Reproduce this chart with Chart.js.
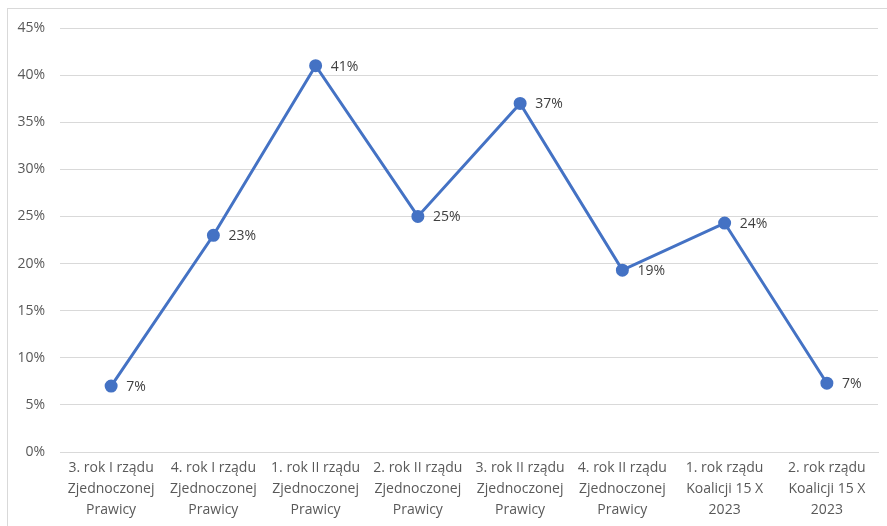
<!DOCTYPE html>
<html>
<head>
<meta charset="utf-8">
<script src="https://cdn.jsdelivr.net/npm/chart.js@4"></script>
<style>
  html, body { margin: 0; padding: 0; background: #fff; }
  .frame {
    position: absolute; left: 7px; top: 8px; width: 900px; height: 540px;
    border-top: 1px solid #d9d9d9; border-left: 1px solid #d9d9d9;
  }
  .wrap { position: absolute; left: 0; top: 0; width: 887px; height: 526px; }
</style>
</head>
<body>
<div class="frame"></div>
<div class="wrap"><canvas id="myChart"></canvas></div>
<script>
const labels = [
  ['3. rok I rządu', 'Zjednoczonej', 'Prawicy'],
  ['4. rok I rządu', 'Zjednoczonej', 'Prawicy'],
  ['1. rok II rządu', 'Zjednoczonej', 'Prawicy'],
  ['2. rok II rządu', 'Zjednoczonej', 'Prawicy'],
  ['3. rok II rządu', 'Zjednoczonej', 'Prawicy'],
  ['4. rok II rządu', 'Zjednoczonej', 'Prawicy'],
  ['1. rok rządu', 'Koalicji 15 X', '2023'],
  ['2. rok rządu', 'Koalicji 15 X', '2023'],
];
const values = [7, 23, 41, 25, 37, 19.3, 24.3, 7.3];
const yTicks = [0, 5, 10, 15, 20, 25, 30, 35, 40, 45];

const font = { family: "'Open Sans', sans-serif", size: 14, lineHeight: 1.5 };

// percent labels to the right of each point
const pointLabels = {
  id: 'pointLabels',
  afterDatasetsDraw(chart) {
    const c = chart.ctx;
    const meta = chart.getDatasetMeta(0);
    c.save();
    c.font = "14px 'Open Sans', sans-serif";
    c.fillStyle = '#404040';
    c.textAlign = 'left';
    c.textBaseline = 'middle';
    meta.data.forEach((pt, i) => {
      c.fillText(Math.round(values[i]) + '%', pt.x + 15, pt.y + 1);
    });
    c.restore();
  },
};

const ctx = document.getElementById('myChart');

new Chart(ctx, {
  type: 'line',
  data: {
    labels: labels,
    datasets: [
      {
        data: values,
        borderColor: '#4472C4',
        backgroundColor: '#4472C4',
        borderWidth: 3,
        pointRadius: 5,
        pointHoverRadius: 5,
        tension: 0,
      },
    ],
  },
  options: {
    responsive: true,
    maintainAspectRatio: false,
    animation: false,
    layout: { padding: { top: 28, right: 9, left: 0, bottom: 0 } },
    plugins: {
      legend: { display: false },
      tooltip: { enabled: false },
    },
    scales: {
      x: {
        offset: true,
        grid: { display: false, drawTicks: false },
        border: { color: '#d9d9d9' },
        ticks: {
          color: '#595959',
          font: font,
          padding: 6,
          maxRotation: 0,
          autoSkip: false,
        },
        afterFit(scale) { scale.height = 74; },
      },
      y: {
        min: 0,
        max: 45,
        afterBuildTicks(scale) { scale.ticks = yTicks.map((v) => ({ value: v })); },
        grid: { color: '#d9d9d9', drawTicks: false },
        border: { display: false },
        ticks: {
          color: '#595959',
          font: { family: font.family, size: 14 },
          padding: 15,
          callback: (v) => v + '%',
        },
        afterFit(scale) { scale.width = 60; },
      },
    },
  },
  plugins: [pointLabels],
});
</script>
</body>
</html>
